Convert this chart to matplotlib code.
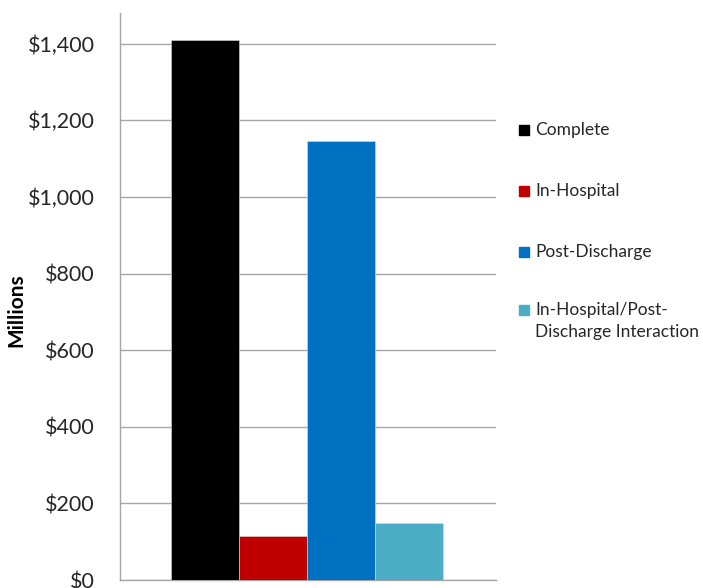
import matplotlib.pyplot as plt
from matplotlib.ticker import FuncFormatter
from matplotlib.patches import Rectangle

labels = ['Complete', 'In-Hospital', 'Post-Discharge',
          'In-Hospital/Post-\nDischarge Interaction']
values = [1410, 116, 1147, 149]
colors = ['#000000', '#C00000', '#0070C0', '#4BACC6']
yticks = [0, 200, 400, 600, 800, 1000, 1200, 1400]

plt.rcParams['font.family'] = ['Lato', 'DejaVu Sans']

W, H = 703, 588
fig = plt.figure(figsize=(W / 100, H / 100), dpi=100)
ax = fig.add_axes([0.1707, 0.0136, 0.5348, 0.9643])

offsets = [-1.5, -0.5, 0.5, 1.5]
for off, v, c in zip(offsets, values, colors):
    ax.bar(off, v, width=1.0, color=c, edgecolor='#d9d9d9', linewidth=0.4, zorder=3)

ax.set_xlim(-2.75, 2.78)
ax.set_ylim(0, 1480)
ax.set_yticks(yticks)
ax.yaxis.set_major_formatter(FuncFormatter(lambda v, p: '${:,.0f}'.format(v)))
ax.tick_params(axis='y', length=0, pad=18, labelsize=15.5, colors='#262626')
ax.set_xticks([])
ax.grid(axis='y', color='#a6a6a6', linewidth=1.0, zorder=0)
for s in ['top', 'right']:
    ax.spines[s].set_visible(False)
for s in ['left', 'bottom']:
    ax.spines[s].set_color('#a6a6a6')
    ax.spines[s].set_linewidth(1.0)

ax.set_ylabel('Millions', fontsize=15, fontweight='bold')
ax.yaxis.set_label_coords(-0.25, 0.475)

# legend drawn by hand so the marker sits on the first line of a wrapped label
rows_y = [130, 191, 252, 310]
for lab, c, yp in zip(labels, colors, rows_y):
    fig.add_artist(Rectangle((519 / W, 1 - (yp + 5) / H), 10 / W, 10 / H,
                             transform=fig.transFigure, color=c))
    fig.text(535 / W, 1 - (yp - 8) / H, lab, fontsize=12.5, color='#262626',
             va='top', ha='left', linespacing=1.5)

fig.savefig('out.png', dpi=100)
